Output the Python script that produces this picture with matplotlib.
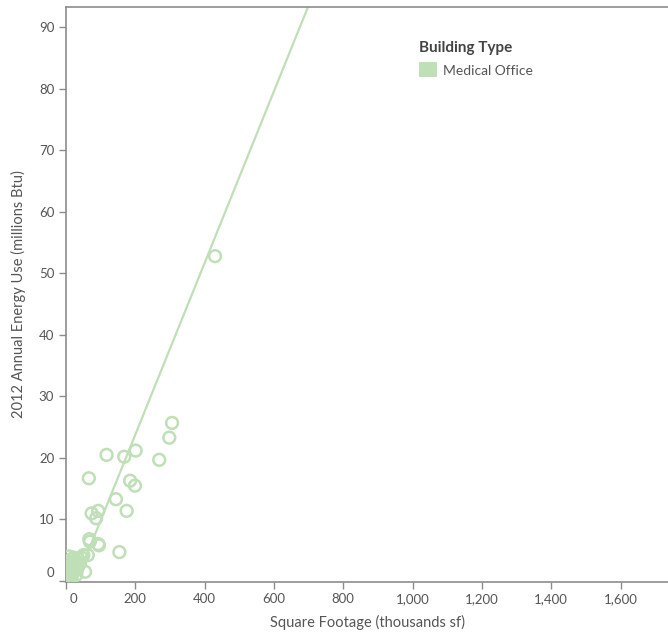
import matplotlib
matplotlib.use('Agg')
import matplotlib.pyplot as plt
import matplotlib.transforms as mtrans
from matplotlib.patches import Patch
import numpy as np

# square footage (thousands sf) and 2012 energy use (millions Btu)
sqft = [430, 306, 298, 269, 201, 168, 117, 66, 185, 199, 144, 175, 74, 93, 87,
        67, 69, 95, 154, 63, 55, 93,
        3, 5, 6, 8, 10, 12, 14, 15, 18, 20, 22, 25, 28, 30, 35, 40, 45, 50, 4, 9,
        2, 7, 16, 33]
energy = [52.8, 25.7, 23.3, 19.7, 21.2, 20.2, 20.5, 16.7, 16.3, 15.5, 13.3, 11.4, 11.0, 11.4, 10.2,
          6.8, 6.4, 5.8, 4.7, 4.2, 1.5, 6.0,
          0.8, 1.5, 2.5, 1.0, 3.0, 2.0, 0.6, 3.5, 2.6, 1.5, 3.8, 2.2, 3.2, 1.0, 3.6, 2.8, 3.8, 4.2, 3.2, 4.0,
          2.0, 0.4, 1.2, 2.0]

trend_slope = 0.1395
trend_intercept = -4.1

x_ticks = [0, 200, 400, 600, 800, 1000, 1200, 1400, 1600]
y_ticks = [0, 10, 20, 30, 40, 50, 60, 70, 80, 90]

green = '#bfdfb7'
grey_text = '#555555'
spine_col = '#8c8c8c'

plt.rcParams['font.family'] = ['Lato', 'DejaVu Sans']

fig = plt.figure(figsize=(6.68, 6.35), dpi=100)
ax = fig.add_axes([66 / 668, 53 / 635, (668 - 66) / 668, (582 - 7) / 635])

tx = np.array([0, 800])
ax.plot(tx, trend_slope * tx + trend_intercept, color=green, lw=1.6, zorder=2)
ax.scatter(sqft, energy, s=72, facecolors='none', edgecolors=green, linewidths=1.8, zorder=3)

ax.set_xlim(0, 1737)
ax.set_ylim(-0.16, 93.3)
ax.set_xticks(x_ticks)
ax.set_xticklabels([f'{v:,}' for v in x_ticks])
ax.set_yticks(y_ticks)

for side in ['left', 'bottom', 'top']:
    ax.spines[side].set_color(spine_col)
    ax.spines[side].set_linewidth(1.2)
ax.spines['right'].set_visible(False)
ax.tick_params(colors=spine_col, labelcolor=grey_text, labelsize=9.5, length=5, width=1)
ax.tick_params(axis='x', pad=3)

# nudge the zero labels away from the corner
xl = ax.get_xticklabels()[0]
xl.set_transform(xl.get_transform() + mtrans.ScaledTranslation(7 / 100, 0, fig.dpi_scale_trans))
yl = ax.get_yticklabels()[0]
yl.set_transform(yl.get_transform() + mtrans.ScaledTranslation(0, 9 / 100, fig.dpi_scale_trans))

ax.set_xlabel('Square Footage (thousands sf)', color=grey_text, fontsize=10.5, labelpad=7)
ax.set_ylabel('2012 Annual Energy Use (millions Btu)', color=grey_text, fontsize=10.5, labelpad=9)

leg = ax.legend(handles=[Patch(facecolor=green, edgecolor='none', label='Medical Office')],
                title='Building Type', loc='upper left', bbox_to_anchor=(0.565, 0.962),
                frameon=False, fontsize=10, handlelength=1.3, handleheight=1.3,
                handletextpad=0.45, alignment='left')
leg.get_title().set_fontweight('bold')
leg.get_title().set_fontsize(11)
leg.get_title().set_color('#444444')
for t in leg.get_texts():
    t.set_color(grey_text)

fig.savefig('out.png', dpi=100)
